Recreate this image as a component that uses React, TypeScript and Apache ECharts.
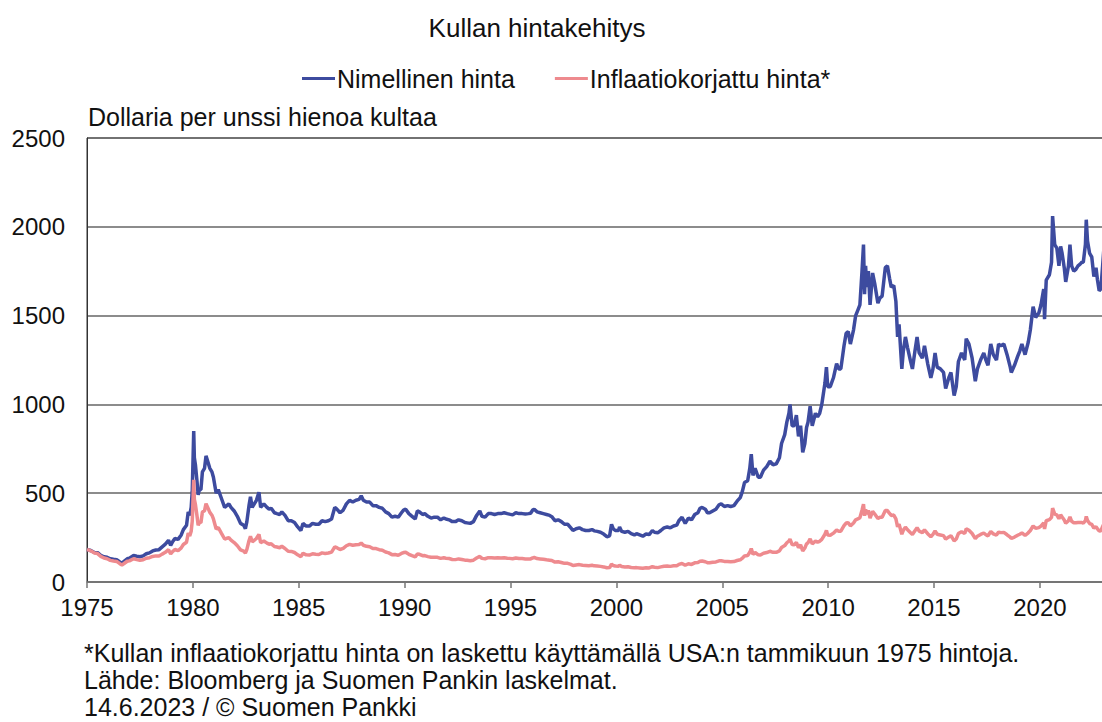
import { useEffect, useRef } from "react";
import * as echarts from "echarts";

const dates = [
  1975.0, 1975.1, 1975.2, 1975.35, 1975.5, 1975.65, 1975.8, 1975.95,
  1976.1, 1976.25, 1976.4, 1976.55, 1976.65, 1976.75, 1976.9,
  1977.0, 1977.2, 1977.35, 1977.5, 1977.65, 1977.8, 1977.95,
  1978.1, 1978.25, 1978.4, 1978.55, 1978.7, 1978.85, 1978.95,
  1979.05, 1979.15, 1979.3, 1979.45, 1979.55, 1979.7, 1979.78, 1979.85, 1979.92, 1979.97,
  1980.04, 1980.07, 1980.12, 1980.2, 1980.25, 1980.3, 1980.38, 1980.45, 1980.55, 1980.62, 1980.7, 1980.8, 1980.9, 1980.97,
  1981.1, 1981.2, 1981.35, 1981.5, 1981.6, 1981.7, 1981.8, 1981.95,
  1982.1, 1982.25, 1982.4, 1982.48, 1982.55, 1982.65, 1982.72, 1982.8, 1982.9, 1983.0,
  1983.12, 1983.2, 1983.35, 1983.5, 1983.6, 1983.7, 1983.85, 1983.97,
  1984.1, 1984.2, 1984.35, 1984.5, 1984.65, 1984.8, 1984.95,
  1985.1, 1985.2, 1985.35, 1985.5, 1985.65, 1985.8, 1985.95,
  1986.1, 1986.25, 1986.4, 1986.55, 1986.7, 1986.8, 1986.95,
  1987.1, 1987.25, 1987.4, 1987.55, 1987.7, 1987.85, 1987.95,
  1988.05, 1988.2, 1988.35, 1988.5, 1988.65, 1988.8, 1988.95,
  1989.1, 1989.25, 1989.4, 1989.55, 1989.7, 1989.85, 1989.95,
  1990.05, 1990.2, 1990.35, 1990.5, 1990.6, 1990.7, 1990.85, 1990.95,
  1991.1, 1991.25, 1991.4, 1991.55, 1991.7, 1991.85, 1991.95,
  1992.1, 1992.25, 1992.4, 1992.55, 1992.7, 1992.85, 1992.95,
  1993.1, 1993.25, 1993.4, 1993.55, 1993.65, 1993.8, 1993.95,
  1994.1, 1994.25, 1994.4, 1994.55, 1994.7, 1994.85, 1994.95,
  1995.1, 1995.25, 1995.4, 1995.55, 1995.7, 1995.85, 1995.95,
  1996.05, 1996.12, 1996.25, 1996.4, 1996.55, 1996.7, 1996.85, 1996.95,
  1997.1, 1997.25, 1997.4, 1997.55, 1997.7, 1997.85, 1997.95,
  1998.1, 1998.25, 1998.4, 1998.55, 1998.7, 1998.85, 1998.95,
  1999.1, 1999.25, 1999.4, 1999.55, 1999.68, 1999.77, 1999.85, 1999.95,
  2000.1, 2000.15, 2000.25, 2000.4, 2000.55, 2000.7, 2000.85, 2000.95,
  2001.1, 2001.25, 2001.4, 2001.55, 2001.7, 2001.8, 2001.95,
  2002.1, 2002.25, 2002.4, 2002.55, 2002.7, 2002.85, 2002.95,
  2003.1, 2003.25, 2003.4, 2003.55, 2003.7, 2003.85, 2003.95,
  2004.05, 2004.2, 2004.3, 2004.4, 2004.55, 2004.7, 2004.85, 2004.95,
  2005.1, 2005.25, 2005.4, 2005.55, 2005.7, 2005.85, 2005.95,
  2006.05, 2006.2, 2006.3, 2006.37, 2006.45, 2006.55, 2006.7, 2006.8, 2006.95,
  2007.1, 2007.25, 2007.4, 2007.55, 2007.7, 2007.8, 2007.95,
  2008.05, 2008.15, 2008.2, 2008.3, 2008.4, 2008.5, 2008.6, 2008.7, 2008.8, 2008.9, 2008.98,
  2009.05, 2009.15, 2009.25, 2009.4, 2009.5, 2009.6, 2009.7, 2009.85, 2009.92, 2009.98,
  2010.1, 2010.25, 2010.4, 2010.5, 2010.6, 2010.75, 2010.85, 2010.95,
  2011.05, 2011.2, 2011.3, 2011.4, 2011.5, 2011.6, 2011.67, 2011.72, 2011.77, 2011.82, 2011.9, 2011.98,
  2012.1, 2012.2, 2012.35, 2012.45, 2012.55, 2012.7, 2012.8, 2012.9, 2012.98,
  2013.1, 2013.2, 2013.28, 2013.35, 2013.48, 2013.55, 2013.65, 2013.75, 2013.88, 2013.98,
  2014.1, 2014.2, 2014.3, 2014.45, 2014.55, 2014.7, 2014.85, 2014.95,
  2015.05, 2015.15, 2015.3, 2015.45, 2015.55, 2015.7, 2015.8, 2015.95,
  2016.05, 2016.15, 2016.3, 2016.45, 2016.52, 2016.65, 2016.8, 2016.95,
  2017.05, 2017.2, 2017.35, 2017.45, 2017.55, 2017.68, 2017.8, 2017.95,
  2018.05, 2018.15, 2018.3, 2018.45, 2018.6, 2018.65, 2018.8, 2018.95,
  2019.05, 2019.15, 2019.3, 2019.45, 2019.55, 2019.68, 2019.8, 2019.95,
  2020.05, 2020.18, 2020.22, 2020.3, 2020.45, 2020.55, 2020.6, 2020.7, 2020.8, 2020.9, 2020.98,
  2021.05, 2021.15, 2021.22, 2021.35, 2021.42, 2021.5, 2021.6, 2021.7, 2021.8, 2021.9, 2021.98,
  2022.05, 2022.15, 2022.19, 2022.25, 2022.35, 2022.45, 2022.55, 2022.65, 2022.72, 2022.8, 2022.88, 2022.95,
  2023.05, 2023.15, 2023.3, 2023.4, 2023.45,
];

const nominal = [
  183, 180, 176, 166, 165, 150, 142, 139,
  131, 128, 126, 113, 106, 116, 131,
  134, 149, 145, 142, 147, 159, 164,
  175, 180, 182, 198, 213, 235, 206,
  228, 245, 240, 265, 295, 320, 395, 375, 420, 510,
  850, 700, 660, 560, 490, 520, 520, 620, 640, 710, 680, 640, 620, 590,
  500, 520, 470, 420, 430, 440, 420, 400,
  370, 330, 320, 300, 340, 430, 480, 420, 440, 460,
  505, 420, 440, 420, 410, 415, 390, 385,
  380, 395, 375, 345, 345, 335, 310,
  290, 330, 315, 315, 330, 325, 325,
  345, 340, 345, 355, 420, 410, 390,
  405, 440, 460, 450, 460, 465, 485,
  460, 450, 450, 430, 430, 420, 415,
  395, 385, 365, 370, 365, 390, 405,
  410, 385, 370, 355, 400, 395, 380, 385,
  370, 360, 365, 365, 350, 360, 355,
  350, 340, 340, 350, 345, 335, 333,
  330, 340, 375, 400, 370, 365, 385,
  385, 380, 385, 385, 390, 385, 382,
  378, 390, 385, 385, 383, 385, 387,
  405, 410, 395, 390, 385, 380, 375, 368,
  345, 350, 340, 325, 325, 305, 290,
  300, 305, 295, 290, 290, 295, 288,
  285, 280, 270, 255, 260, 325, 300, 290,
  290, 310, 285, 280, 285, 272, 265, 272,
  265, 258, 270, 267, 290, 280, 277,
  290, 305, 310, 305, 315, 320, 345,
  365, 330, 360, 350, 380, 390, 415,
  420, 410, 390, 390, 400, 410, 435, 440,
  425, 430, 425, 430, 455, 475, 510,
  560, 570, 640, 720, 600, 640, 590, 590, 630,
  650, 680, 660, 665, 700, 780, 830,
  900, 950, 1000, 880, 880, 940, 820, 880, 730, 780, 870,
  900, 990, 880, 950, 930, 950, 1000, 1120, 1210, 1100,
  1100, 1150, 1230, 1200, 1200, 1330, 1400, 1410,
  1340, 1420, 1500, 1530, 1560, 1750, 1900, 1620, 1780, 1660, 1750, 1560,
  1740, 1680, 1570, 1600, 1610, 1770, 1780, 1710, 1660,
  1670, 1580, 1380, 1450, 1200, 1300, 1380, 1320, 1250, 1200,
  1300, 1380, 1290, 1260, 1330, 1230, 1150, 1200,
  1290, 1210, 1200, 1180, 1090, 1150, 1180, 1050,
  1100, 1240, 1290, 1250, 1370, 1340, 1260, 1130,
  1200, 1250, 1290, 1250, 1220, 1340, 1280, 1250,
  1340, 1330, 1340, 1280, 1210, 1180, 1220, 1270,
  1300, 1340, 1280, 1350, 1420, 1550, 1490, 1515,
  1560, 1650, 1480, 1700, 1730, 1800, 2060, 1900, 1880, 1780, 1890,
  1850, 1770, 1690, 1780, 1900, 1780, 1750, 1760, 1780, 1790, 1800,
  1800, 1900, 2040, 1920, 1850, 1830, 1720, 1770, 1700, 1640, 1650, 1760,
  1920, 1820, 1990, 1980, 1955,
];

const real = [
  183, 179, 174, 163, 160, 144, 135, 131,
  122, 118, 116, 103, 96, 104, 117,
  119, 131, 126, 122, 125, 134, 137,
  144, 147, 146, 157, 167, 182, 158,
  172, 183, 176, 192, 211, 224, 275, 259, 286, 343,
  575, 466, 437, 367, 319, 337, 333, 394, 401, 441, 420, 392, 376, 355,
  298, 307, 274, 242, 246, 249, 236, 222,
  204, 181, 174, 163, 184, 232, 258, 226, 235, 245,
  268, 222, 231, 219, 213, 215, 200, 197,
  193, 201, 189, 173, 172, 166, 153,
  143, 162, 153, 152, 159, 156, 155,
  164, 161, 163, 168, 198, 193, 183,
  189, 204, 212, 207, 210, 211, 219,
  207, 201, 199, 189, 188, 182, 179,
  169, 164, 154, 155, 151, 161, 166,
  167, 156, 148, 141, 158, 156, 148, 149,
  143, 139, 140, 139, 133, 136, 134,
  132, 127, 126, 130, 127, 123, 122,
  120, 123, 135, 144, 133, 131, 137,
  137, 135, 136, 135, 137, 134, 133,
  131, 135, 132, 132, 130, 130, 130,
  136, 138, 132, 130, 128, 125, 123, 121,
  112, 114, 110, 105, 105, 99, 93,
  96, 98, 94, 93, 92, 94, 91,
  90, 88, 85, 80, 81, 101, 93, 90,
  89, 95, 87, 85, 86, 82, 80, 81,
  79, 77, 80, 79, 86, 83, 81,
  85, 89, 90, 88, 91, 92, 99,
  104, 94, 103, 99, 108, 110, 117,
  118, 114, 109, 108, 111, 113, 119, 120,
  116, 116, 114, 115, 121, 125, 134,
  147, 149, 167, 188, 156, 166, 153, 152, 162,
  166, 173, 167, 167, 175, 194, 205,
  221, 231, 242, 211, 210, 223, 194, 209, 175, 191, 215,
  221, 243, 215, 230, 224, 229, 240, 269, 290, 264,
  263, 275, 293, 286, 286, 317, 332, 334,
  316, 332, 350, 355, 362, 404, 439, 373, 409, 382, 403, 359,
  398, 383, 358, 365, 365, 402, 402, 386, 375,
  377, 356, 311, 326, 269, 291, 309, 294, 279, 268,
  289, 306, 286, 278, 294, 272, 255, 268,
  288, 269, 265, 261, 241, 254, 261, 232,
  242, 273, 283, 273, 299, 291, 273, 244,
  258, 268, 276, 266, 260, 284, 271, 264,
  281, 278, 279, 266, 252, 245, 253, 263,
  269, 276, 262, 277, 290, 316, 302, 306,
  315, 333, 299, 345, 351, 364, 416, 382, 378, 356, 378,
  366, 349, 331, 345, 367, 342, 334, 334, 335, 335, 335,
  331, 346, 369, 346, 329, 324, 303, 312, 299, 287, 289, 308,
  334, 315, 342, 339, 334,
];

const seriesNames = ["Nimellinen hinta", "Inflaatiokorjattu hinta*"];
const chartTitle = "Kullan hintakehitys";
const unitLabel = "Dollaria per unssi hienoa kultaa";
const footnotes = [
  "*Kullan inflaatiokorjattu hinta on laskettu käyttämällä USA:n tammikuun 1975 hintoja.",
  "Lähde: Bloomberg ja Suomen Pankin laskelmat.",
  "14.6.2023 / © Suomen Pankki",
];

export default function App() {
  const ref = useRef<HTMLDivElement>(null);
  useEffect(() => {
    const chart = echarts.init(ref.current!, null, { renderer: "svg" });
    const font = "'Liberation Sans', Arial, sans-serif";
    const toPairs = (vals: number[]) => dates.map((d, i) => [d, vals[i]]);
    chart.setOption({
      animation: false,
      textStyle: { fontFamily: font },
      grid: {
        left: 87,
        top: 138,
        width: 1027,
        height: 444,
        show: true,
        borderColor: "#333",
        borderWidth: 1,
      },
      xAxis: {
        type: "value",
        min: 1975,
        max: 2023.5,
        interval: 5,
        axisLine: { lineStyle: { color: "#777", width: 1.5 } },
        axisTick: { length: 6, lineStyle: { color: "#777", width: 1.5 } },
        axisLabel: {
          showMaxLabel: false,
          fontSize: 24,
          color: "#111",
          margin: 13,
          fontFamily: font,
          formatter: (v: number) => (Math.abs(v % 5) < 1e-6 ? String(v) : ""),
        },
        splitLine: { show: false },
      },
      yAxis: {
        type: "value",
        min: 0,
        max: 2500,
        interval: 500,
        axisLine: { show: true, lineStyle: { color: "#333", width: 1 } },
        axisTick: { show: false },
        axisLabel: {
          fontSize: 24,
          color: "#111",
          margin: 22,
          fontFamily: font,
          formatter: (v: number) => String(v),
        },
        splitLine: { lineStyle: { color: "#666", width: 1.5 } },
      },
      legend: {
        left: 297,
        top: 61,
        icon: "rect",
        itemWidth: 33,
        itemHeight: 3,
        itemGap: 40,
        textStyle: { fontSize: 25, color: "#111", fontFamily: font, padding: [0, 0, 0, -3] },
        data: seriesNames,
      },
      series: [
        {
          name: seriesNames[0],
          type: "line",
          data: toPairs(nominal),
          showSymbol: false,
          symbol: "none",
          lineStyle: { color: "#3d4b9f", width: 3.5 },
          itemStyle: { color: "#3d4b9f" },
          z: 2,
        },
        {
          name: seriesNames[1],
          type: "line",
          data: toPairs(real),
          showSymbol: false,
          symbol: "none",
          lineStyle: { color: "#ee8a8e", width: 3.5 },
          itemStyle: { color: "#ee8a8e" },
          z: 3,
        },
      ],
      graphic: [
        {
          type: "text",
          x: 537,
          y: 28,
          style: {
            text: chartTitle,
            fontSize: 26,
            fontFamily: font,
            fill: "#111",
            textAlign: "center",
            verticalAlign: "middle",
          },
        },
        {
          type: "text",
          x: 88,
          y: 117,
          style: {
            text: unitLabel,
            fontSize: 25,
            fontFamily: font,
            fill: "#111",
            textAlign: "left",
            verticalAlign: "middle",
          },
        },
        ...footnotes.map((t, i) => ({
          type: "text",
          x: 84,
          y: 653 + i * 27,
          style: {
            text: t,
            fontSize: 25,
            fontFamily: font,
            fill: "#111",
            textAlign: "left",
            verticalAlign: "middle",
          },
        })),
      ],
    });
    return () => chart.dispose();
  }, []);
  return (
    <div
      style={{
        position: "fixed",
        left: 0,
        top: 0,
        width: 1102,
        height: 722,
        overflow: "hidden",
        background: "#fff",
      }}
    >
      <div ref={ref} style={{ width: 1116, height: 722 }} />
    </div>
  );
}
